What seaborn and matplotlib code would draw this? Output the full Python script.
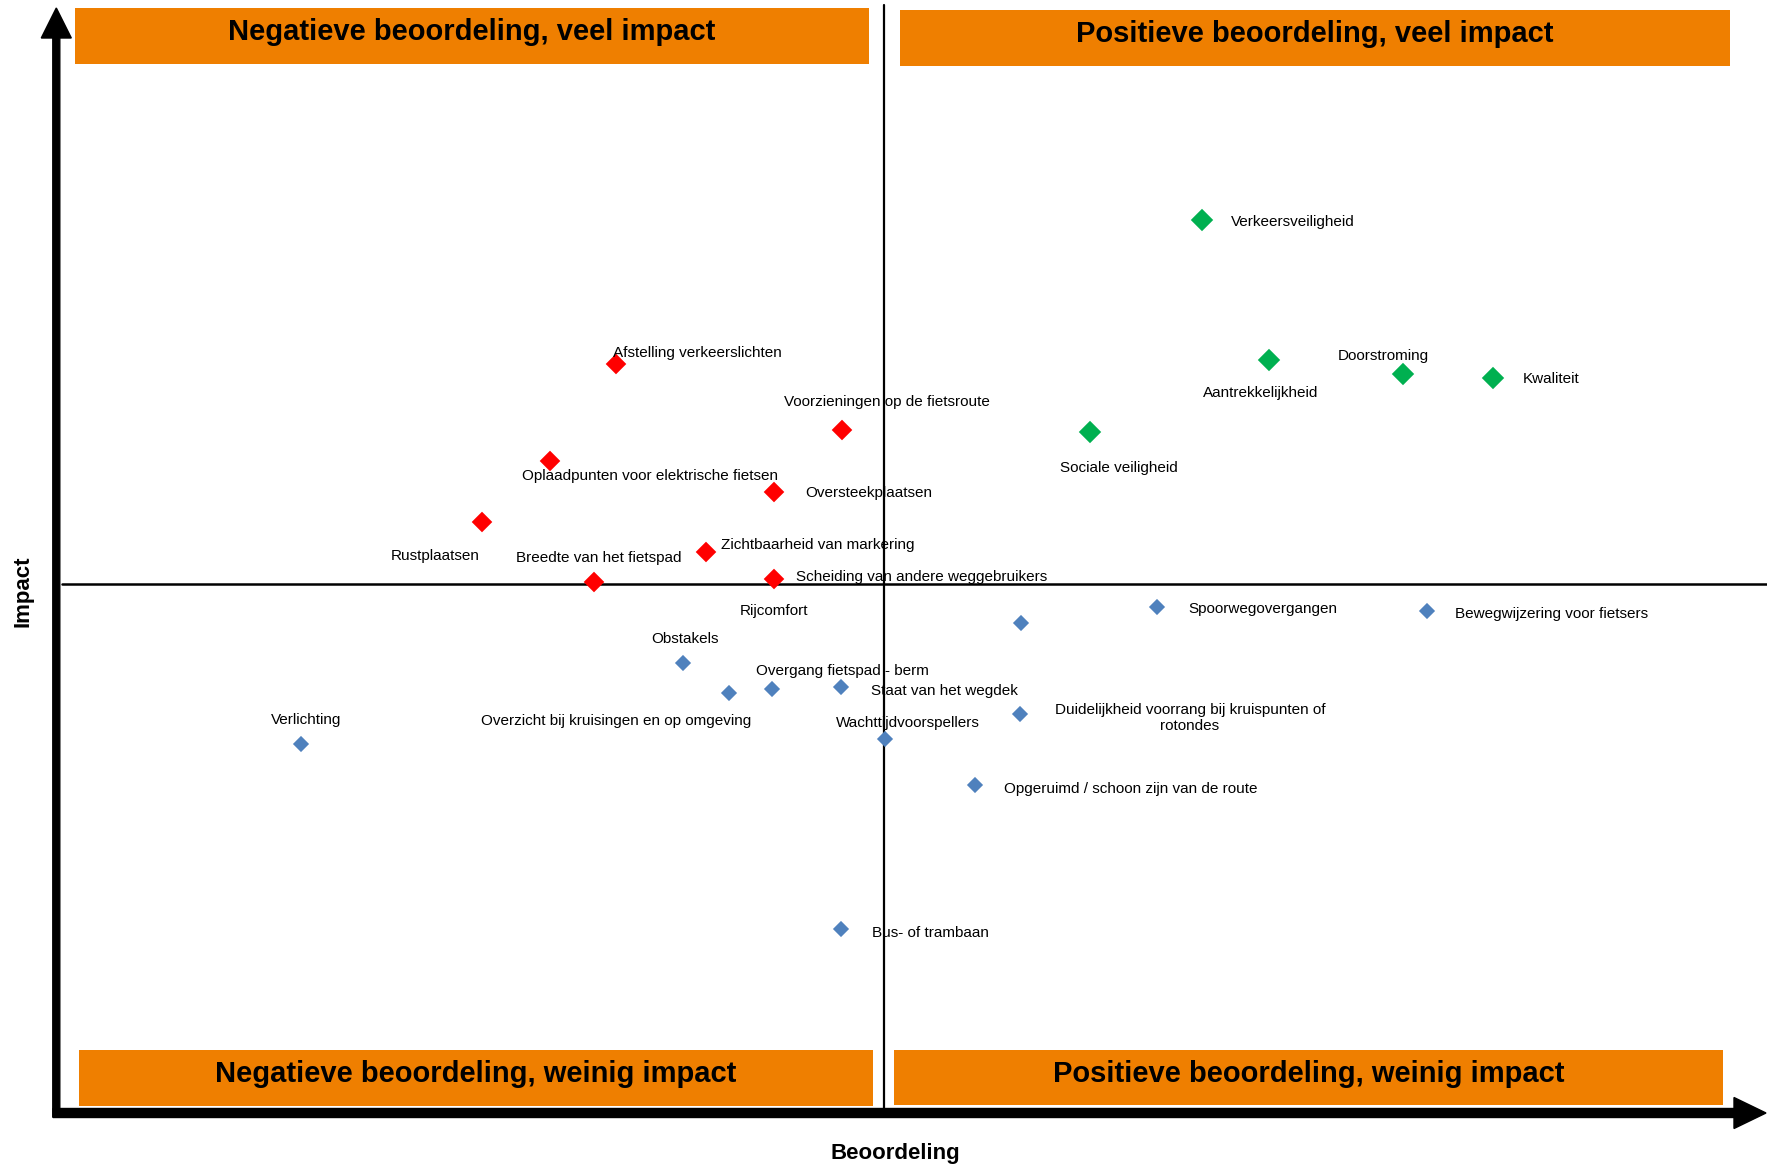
import matplotlib
matplotlib.use("Agg")
import matplotlib.pyplot as plt
from matplotlib.patches import Rectangle, FancyArrow
import pandas as pd
import seaborn as sns

# green: positieve beoordeling, veel impact
green_names = ["Verkeersveiligheid", "Aantrekkelijkheid", "Doorstroming", "Kwaliteit", "Sociale veiligheid"]
green_beoordeling = [3.18, 3.85, 5.19, 6.09, 2.06]
green_impact = [3.64, 2.24, 2.10, 2.06, 1.52]

# red: negatieve beoordeling, veel impact
red_names = ["Afstelling verkeerslichten", "Voorzieningen op de fietsroute",
             "Oplaadpunten voor elektrische fietsen", "Oversteekplaatsen", "Rustplaatsen",
             "Zichtbaarheid van markering", "Breedte van het fietspad",
             "Scheiding van andere weggebruikers"]
red_beoordeling = [-2.68, -0.42, -3.34, -1.10, -4.02, -1.78, -2.90, -1.10]
red_impact = [2.20, 1.54, 1.23, 0.92, 0.62, 0.32, 0.02, 0.05]

# blue: weinig impact
blue_names = ["Rijcomfort", "Spoorwegovergangen", "Bewegwijzering voor fietsers", "Obstakels",
              "Overzicht bij kruisingen en op omgeving", "Overgang fietspad - berm",
              "Staat van het wegdek", "Duidelijkheid voorrang bij kruispunten of\nrotondes",
              "Wachttijdvoorspellers", "Opgeruimd / schoon zijn van de route",
              "Verlichting", "Bus- of trambaan"]
blue_beoordeling = [1.37, 2.73, 5.43, -2.01, -1.55, -1.12, -0.43, 1.36, 0.01, 0.91, -5.83, -0.43]
blue_impact = [-0.39, -0.23, -0.27, -0.79, -1.09, -1.05, -1.03, -1.30, -1.55, -2.01, -1.60, -3.45]

quadrant_titles = ["Negatieve beoordeling, veel impact", "Positieve beoordeling, veel impact",
                   "Negatieve beoordeling, weinig impact", "Positieve beoordeling, weinig impact"]

# label placement (offset in pixels from the marker, alignment)
label_pos = {
    "Verkeersveiligheid": (29, -2, "left"),
    "Aantrekkelijkheid": (-8, -33, "center"),
    "Doorstroming": (-20, 18, "center"),
    "Kwaliteit": (30, -1, "left"),
    "Sociale veiligheid": (29, -36, "center"),
    "Afstelling verkeerslichten": (-3, 11, "left"),
    "Voorzieningen op de fietsroute": (45, 28, "center"),
    "Oplaadpunten voor elektrische fietsen": (100, -15, "center"),
    "Oversteekplaatsen": (31, -1, "left"),
    "Rustplaatsen": (-47, -34, "center"),
    "Zichtbaarheid van markering": (15, 7, "left"),
    "Breedte van het fietspad": (5, 24, "center"),
    "Scheiding van andere weggebruikers": (22, 2, "left"),
    "Rijcomfort": (-247, 12, "center"),
    "Spoorwegovergangen": (31, -2, "left"),
    "Bewegwijzering voor fietsers": (28, -3, "left"),
    "Obstakels": (2, 24, "center"),
    "Overzicht bij kruisingen en op omgeving": (-113, -28, "center"),
    "Overgang fietspad - berm": (70, 18, "center"),
    "Staat van het wegdek": (30, -4, "left"),
    "Duidelijkheid voorrang bij kruispunten of\nrotondes": (170, -4, "center"),
    "Wachttijdvoorspellers": (23, 16, "center"),
    "Opgeruimd / schoon zijn van de route": (29, -4, "left"),
    "Verlichting": (5, 24, "center"),
    "Bus- of trambaan": (31, -4, "left"),
}

df = pd.concat([
    pd.DataFrame({"naam": green_names, "beoordeling": green_beoordeling, "impact": green_impact, "groep": "groen"}),
    pd.DataFrame({"naam": red_names, "beoordeling": red_beoordeling, "impact": red_impact, "groep": "rood"}),
    pd.DataFrame({"naam": blue_names, "beoordeling": blue_beoordeling, "impact": blue_impact, "groep": "blauw"}),
], ignore_index=True)

sns.set_theme(style="white")
plt.rcParams["font.family"] = ["Liberation Sans", "DejaVu Sans"]
plt.rcParams["text.color"] = "black"

fig = plt.figure(figsize=(17.67, 11.66), dpi=100)
ax = fig.add_axes([0, 0, 1, 1])
ax.set_xlim(-8.84, 8.83)
ax.set_ylim(-5.82, 5.84)
ax.axis("off")

# quadrant lines
ax.plot([0, 0], [-5.29, 5.79], color="black", lw=1.6, zorder=1)
ax.plot([-8.22, 8.84], [0, 0], color="black", lw=1.8, zorder=1)

# axis arrows
ax.add_patch(FancyArrow(-8.277, -5.33, 0, 11.09, width=0.07, head_width=0.30, head_length=0.30,
                        length_includes_head=True, color="black", zorder=4))
ax.add_patch(FancyArrow(-8.31, -5.29, 17.13, 0, width=0.09, head_width=0.31, head_length=0.32,
                        length_includes_head=True, color="black", zorder=4))

# orange quadrant boxes
boxes = [(-8.088, 5.205, 7.938, 0.558), (0.157, 5.183, 8.303, 0.557),
         (-8.048, -5.217, 7.938, 0.557), (0.097, -5.214, 8.295, 0.554)]
for (bx, by, bw, bh), title in zip(boxes, quadrant_titles):
    ax.add_patch(Rectangle((bx, by), bw, bh, facecolor="#EF7F00", edgecolor="none", zorder=2))
    ax.text(bx + bw / 2, by + bh / 2 + 0.04, title, ha="center", va="center",
            fontsize=21, fontweight="bold", color="black", zorder=3)

sns.scatterplot(data=df, x="beoordeling", y="impact", hue="groep", size="groep",
                palette={"groen": "#00B050", "rood": "#FF0000", "blauw": "#4F81BD"},
                sizes={"groen": 130, "rood": 110, "blauw": 68},
                marker="D", edgecolor="none", legend=False, ax=ax, zorder=5)

for _, row in df.iterrows():
    dx, dy, ha = label_pos[row["naam"]]
    ax.annotate(row["naam"], (row["beoordeling"], row["impact"]), xytext=(dx, dy),
                textcoords="offset pixels", ha=ha, va="center", fontsize=11,
                multialignment="center", color="black", zorder=6)

ax.text(-8.61, -0.07, "Impact", rotation=90, ha="center", va="center",
        fontsize=16, fontweight="bold", color="black")
ax.text(0.11, -5.69, "Beoordeling", ha="center", va="center",
        fontsize=16, fontweight="bold", color="black")

fig.savefig("out.png", dpi=100)
